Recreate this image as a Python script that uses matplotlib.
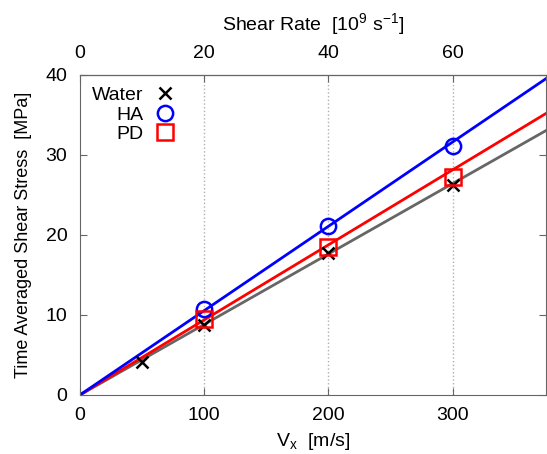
import numpy as np
import matplotlib.pyplot as plt

plt.rcParams['font.family'] = ['Liberation Sans', 'DejaVu Sans']
plt.rcParams['mathtext.fontset'] = 'custom'
plt.rcParams['mathtext.rm'] = 'Liberation Sans'
plt.rcParams['mathtext.it'] = 'Liberation Sans'

# data
water_v = [50, 100, 200, 300]
water_s = [4.1, 8.7, 17.7, 26.3]
ha_v = [100, 200, 300]
ha_s = [10.8, 21.1, 31.1]
pd_v = [100, 200, 300]
pd_s = [9.5, 18.5, 27.3]

# fitted slopes (MPa per m/s), lines through origin
slope_water = 0.0881
slope_ha = 0.1054
slope_pd = 0.0938

fs = 14

fig = plt.figure(figsize=(5.47, 4.54), dpi=100)
ax = fig.add_axes([0.146, 0.130, 0.852, 0.705])

xx = np.array([0, 380])
ax.plot(xx, slope_water * xx, c='#666666', lw=2)
ax.plot(xx, slope_pd * xx, c='red', lw=2)
ax.plot(xx, slope_ha * xx, c='blue', lw=2)

ax.plot(water_v, water_s, 'x', c='k', ms=9, mew=1.8, label='Water')
ax.plot(ha_v, ha_s, 'o', mfc='none', mec='blue', ms=11, mew=1.8, label='HA')
ax.plot(pd_v, pd_s, 's', mfc='none', mec='red', ms=11, mew=1.8, label='PD')

ax.set_xlim(0, 375)
ax.set_ylim(0, 40)
ax.set_xticks([0, 100, 200, 300])
ax.set_yticks([0, 10, 20, 30, 40])
for x in [100, 200, 300]:
    ax.axvline(x, c='#b0b0b0', ls=':', lw=1, zorder=0)

ax.tick_params(direction='in', labelsize=fs, right=True, color='#666666',
               length=5, pad=9)
for s in ax.spines.values():
    s.set_color('#666666')

ax.set_xlabel('V$_x$  [m/s]', fontsize=fs, labelpad=5)
ax.set_ylabel('Time Averaged Shear Stress  [MPa]', fontsize=13, labelpad=10)

top = ax.secondary_xaxis('top', functions=(lambda v: v / 5, lambda r: r * 5))
top.set_xticks([0, 20, 40, 60])
top.tick_params(direction='in', labelsize=fs, color='#666666', length=5, pad=9)
top.set_xlabel('Shear Rate  [10$^9$ s$^{-1}$]', fontsize=fs, labelpad=11)

ax.legend(loc='upper left', frameon=False, markerfirst=False, fontsize=fs,
          handletextpad=0.5, borderaxespad=0.2, labelspacing=0.1,
          handlelength=1.3, bbox_to_anchor=(0.0, 1.0))

fig.savefig('out.png', dpi=100)
